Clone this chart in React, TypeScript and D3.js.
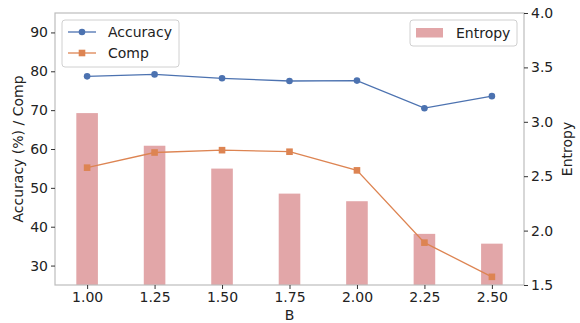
import React, { useEffect, useRef } from 'react';
import * as d3 from 'd3';

// B values
const bValues = [1.0, 1.25, 1.5, 1.75, 2.0, 2.25, 2.5];
const accuracy = [78.7, 79.2, 78.2, 77.5, 77.6, 70.5, 73.6];
const comp = [55.2, 59.1, 59.7, 59.3, 54.5, 35.9, 27.1];
const entropy = [3.08, 2.78, 2.57, 2.34, 2.27, 1.97, 1.88];

const leftTicks = [30, 40, 50, 60, 70, 80, 90];
const rightTicks = [1.5, 2.0, 2.5, 3.0, 3.5, 4.0];

const W = 580;
const H = 323;
const margin = { top: 13, right: 56, bottom: 38, left: 55 };
const FONT = 'DejaVu Sans, sans-serif';
const FS = 14;
const BLUE = '#4C72B0';
const ORANGE = '#DD8452';
const BAR = '#E2A6A8';
const SPINE = '#bdbdbd';

const App = () => {
  const svgRef = useRef<SVGSVGElement>(null);

  useEffect(() => {
    const svg = d3.select(svgRef.current);
    svg.selectAll('*').remove();

    const x0 = margin.left;
    const x1 = W - margin.right;
    const y0 = H - margin.bottom;
    const y1 = margin.top;

    const x = d3.scaleLinear().domain([0.881, 2.619]).range([x0, x1]);
    const yL = d3.scaleLinear().domain([25, 95]).range([y0, y1]);
    const yR = d3.scaleLinear().domain([1.5, 4.0]).range([y0, y1]);
    const barW = x(0.08) - x(0);

    // bars (entropy, right axis)
    svg.append('g')
      .selectAll('rect')
      .data(entropy)
      .enter()
      .append('rect')
      .attr('x', (d, i) => x(bValues[i]) - barW / 2)
      .attr('y', d => yR(d))
      .attr('width', barW)
      .attr('height', d => y0 - yR(d))
      .attr('fill', BAR);

    const line = d3.line<number>()
      .x((d, i) => x(bValues[i]))
      .y(d => yL(d));

    svg.append('path')
      .datum(accuracy)
      .attr('d', line)
      .attr('fill', 'none')
      .attr('stroke', BLUE)
      .attr('stroke-width', 1.3);
    svg.append('g')
      .selectAll('circle')
      .data(accuracy)
      .enter()
      .append('circle')
      .attr('cx', (d, i) => x(bValues[i]))
      .attr('cy', d => yL(d))
      .attr('r', 3.3)
      .attr('fill', BLUE);

    svg.append('path')
      .datum(comp)
      .attr('d', line)
      .attr('fill', 'none')
      .attr('stroke', ORANGE)
      .attr('stroke-width', 1.3);
    svg.append('g')
      .selectAll('rect')
      .data(comp)
      .enter()
      .append('rect')
      .attr('x', (d, i) => x(bValues[i]) - 3.3)
      .attr('y', d => yL(d) - 3.3)
      .attr('width', 6.6)
      .attr('height', 6.6)
      .attr('fill', ORANGE);

    // spines
    svg.append('rect')
      .attr('x', x0)
      .attr('y', y1)
      .attr('width', x1 - x0)
      .attr('height', y0 - y1)
      .attr('fill', 'none')
      .attr('stroke', SPINE)
      .attr('stroke-width', 1.2);

    // axes
    const axL = svg.append('g')
      .attr('transform', `translate(${x0},0)`)
      .call(d3.axisLeft(yL).tickValues(leftTicks).tickSize(4).tickPadding(3));
    const axR = svg.append('g')
      .attr('transform', `translate(${x1},0)`)
      .call(d3.axisRight(yR).tickValues(rightTicks).tickSize(4).tickPadding(3).tickFormat(d3.format('.1f')));
    const axB = svg.append('g')
      .attr('transform', `translate(0,${y0})`)
      .call(d3.axisBottom(x).tickValues(bValues).tickSize(4).tickPadding(3).tickFormat(d3.format('.2f')));

    [axL, axR, axB].forEach(ax => {
      ax.select('.domain').remove();
      ax.selectAll('line').attr('stroke', '#333').attr('stroke-width', 1);
      ax.selectAll('text')
        .attr('font-family', FONT)
        .attr('font-size', FS)
        .attr('fill', '#222');
    });

    // axis labels
    svg.append('text')
      .attr('transform', `translate(23,${(y0 + y1) / 2}) rotate(-90)`)
      .attr('text-anchor', 'middle')
      .attr('font-family', FONT)
      .attr('font-size', FS)
      .attr('fill', '#222')
      .text('Accuracy (%) / Comp');
    svg.append('text')
      .attr('transform', `translate(572,${(y0 + y1) / 2}) rotate(-90)`)
      .attr('text-anchor', 'middle')
      .attr('font-family', FONT)
      .attr('font-size', FS)
      .attr('fill', '#222')
      .text('Entropy');
    svg.append('text')
      .attr('x', (x0 + x1) / 2)
      .attr('y', 320)
      .attr('text-anchor', 'middle')
      .attr('font-family', FONT)
      .attr('font-size', FS)
      .attr('fill', '#222')
      .text('B');

    // left legend
    const lg = svg.append('g').attr('transform', 'translate(62,20)');
    lg.append('rect')
      .attr('width', 117)
      .attr('height', 47)
      .attr('rx', 3)
      .attr('fill', 'white')
      .attr('fill-opacity', 0.8)
      .attr('stroke', '#d0d0d0');
    const items = [
      { label: 'Accuracy', color: BLUE, shape: 'circle' },
      { label: 'Comp', color: ORANGE, shape: 'square' }
    ];
    items.forEach((it, i) => {
      const cy = 12 + i * 21;
      lg.append('line')
        .attr('x1', 6).attr('x2', 34)
        .attr('y1', cy).attr('y2', cy)
        .attr('stroke', it.color)
        .attr('stroke-width', 1.3);
      if (it.shape === 'circle') {
        lg.append('circle').attr('cx', 20).attr('cy', cy).attr('r', 3.3).attr('fill', it.color);
      } else {
        lg.append('rect').attr('x', 16.7).attr('y', cy - 3.3).attr('width', 6.6).attr('height', 6.6).attr('fill', it.color);
      }
      lg.append('text')
        .attr('x', 46)
        .attr('y', cy + 5)
        .attr('font-family', FONT)
        .attr('font-size', FS)
        .attr('fill', '#222')
        .text(it.label);
    });

    // right legend
    const rg = svg.append('g').attr('transform', 'translate(410,20)');
    rg.append('rect')
      .attr('width', 107)
      .attr('height', 26)
      .attr('rx', 3)
      .attr('fill', 'white')
      .attr('fill-opacity', 0.8)
      .attr('stroke', '#d0d0d0');
    rg.append('rect')
      .attr('x', 6).attr('y', 8)
      .attr('width', 27).attr('height', 9.5)
      .attr('fill', BAR);
    rg.append('text')
      .attr('x', 46)
      .attr('y', 18)
      .attr('font-family', FONT)
      .attr('font-size', FS)
      .attr('fill', '#222')
      .text('Entropy');
  }, []);

  return <svg ref={svgRef} width={W} height={H} style={{ position: 'absolute', left: 0, top: 0 }} />;
};

export default App;
